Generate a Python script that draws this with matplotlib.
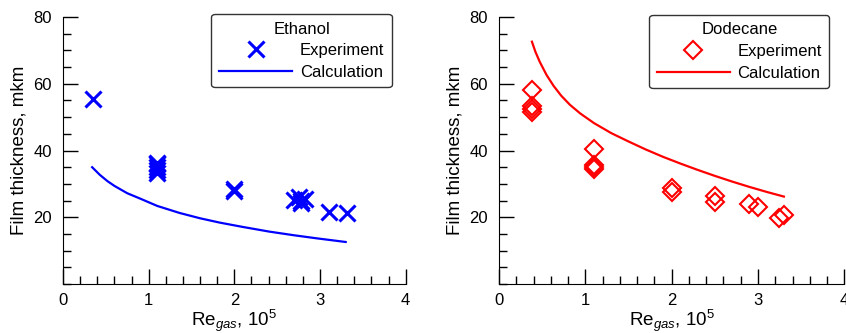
import matplotlib.pyplot as plt
from matplotlib.ticker import MultipleLocator, FixedLocator

plt.rcParams['font.family'] = ['Liberation Sans', 'DejaVu Sans']
plt.rcParams['mathtext.fontset'] = 'custom'
plt.rcParams['mathtext.rm'] = 'Liberation Sans'
plt.rcParams['mathtext.it'] = 'Liberation Sans:italic'

# Ethanol, experiment
eth_re = [0.35, 1.1, 1.1, 1.1, 1.1, 1.1, 2.0, 2.0, 2.7, 2.76, 2.78, 2.78, 2.83, 3.1, 3.31]
eth_h = [55.4, 36.2, 35.2, 34.2, 33.2, 36.0, 28.6, 28.0, 25.2, 26.0, 25.0, 24.2, 25.6, 21.7, 21.2]
# Ethanol, calculation
eth_calc_re = [0.34, 0.43, 0.52, 0.6, 0.75, 0.9, 1.1, 1.36, 1.6, 1.83, 2.1, 2.41, 2.7, 2.96, 3.3]
eth_calc_h = [35.0, 32.7, 30.8, 29.4, 27.2, 25.6, 23.4, 21.3, 19.7, 18.4, 17.1, 15.7, 14.6, 13.7, 12.6]

# Dodecane, experiment
dod_re = [0.38, 0.38, 0.38, 0.38, 1.1, 1.1, 1.1, 1.1, 2.0, 2.0, 2.5, 2.5, 2.9, 3.0, 3.24, 3.3]
dod_h = [58.1, 53.2, 52.3, 51.5, 40.6, 35.8, 35.0, 34.4, 28.7, 27.5, 26.3, 24.6, 24.0, 23.2, 19.8, 20.7]
# Dodecane, calculation
dod_calc_re = [0.38, 0.42, 0.47, 0.55, 0.63, 0.72, 0.82, 0.94, 1.1, 1.3, 1.5, 1.7, 1.9,
               2.1, 2.3, 2.5, 2.7, 2.9, 3.1, 3.3]
dod_calc_h = [72.6, 69.6, 66.6, 62.6, 59.4, 56.4, 53.7, 51.1, 48.2, 45.2, 42.7, 40.3, 38.1,
              36.1, 34.2, 32.4, 30.7, 29.1, 27.6, 26.2]

fig = plt.figure(figsize=(8.46, 3.33), dpi=100)
ax1 = fig.add_axes([0.0745, 0.147, 0.405, 0.802])
ax2 = fig.add_axes([0.590, 0.147, 0.408, 0.802])

ax1.plot(eth_re, eth_h, 'x', color='#0000ff', markersize=11.5, markeredgewidth=2.2,
         linestyle='none', label='Experiment')
ax1.plot(eth_calc_re, eth_calc_h, '-', color='#0000ff', linewidth=1.6, label='Calculation')

ax2.plot(dod_re, dod_h, 'D', color='#ff0000', markersize=9.5, markeredgewidth=1.5,
         markerfacecolor='none', linestyle='none', label='Experiment')
ax2.plot(dod_calc_re, dod_calc_h, '-', color='#ff0000', linewidth=1.6, label='Calculation')

for ax, title, anchor in [(ax1, 'Ethanol', (0.959, 1.011)), (ax2, 'Dodecane', (0.957, 1.0075))]:
    ax.set_xlim(0, 4)
    ax.set_ylim(0, 80)
    ax.spines['top'].set_visible(False)
    ax.spines['right'].set_visible(False)
    ax.xaxis.set_major_locator(MultipleLocator(1))
    ax.xaxis.set_minor_locator(MultipleLocator(0.2))
    ax.yaxis.set_major_locator(FixedLocator([20, 40, 60, 80]))
    ax.yaxis.set_minor_locator(MultipleLocator(5))
    ax.tick_params(which='major', direction='in', length=11, width=1, labelsize=12, pad=8)
    ax.tick_params(axis='x', which='major', pad=6.5)
    ax.tick_params(which='minor', direction='in', length=5.5, width=1)
    ax.set_xlabel(r'Re$_{\mathit{gas}}$, 10$^{5}$', fontsize=13.5, labelpad=0)
    ax.set_ylabel('Film thickness, mkm', fontsize=13.5, labelpad=4)
    leg = ax.legend(title=title, loc='upper right', bbox_to_anchor=anchor, fontsize=12,
                    title_fontsize=12, numpoints=1, handlelength=4.4, borderpad=0.45,
                    labelspacing=0.4, handletextpad=0.45, fancybox=True, framealpha=1,
                    edgecolor='#333333', borderaxespad=0)
    leg.get_frame().set_linewidth(1)

fig.savefig('out.png', dpi=100)
